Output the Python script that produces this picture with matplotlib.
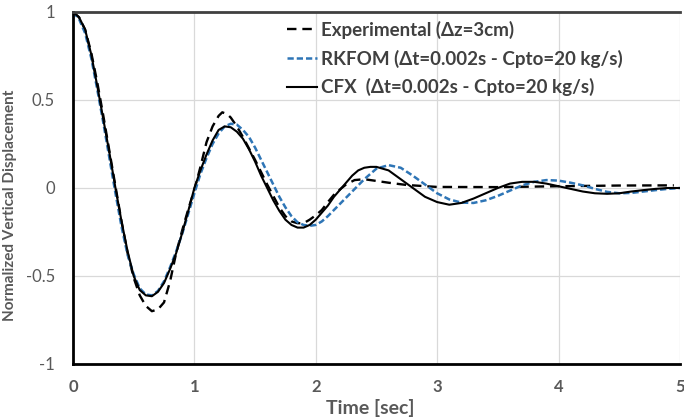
import numpy as np
import matplotlib
matplotlib.use("Agg")
import matplotlib.pyplot as plt

plt.rcParams['font.family'] = ['Lato', 'DejaVu Sans']

# experimental (dashed black)
t_exp = [0, 0.05, 0.1, 0.15, 0.2, 0.25, 0.3, 0.35, 0.4, 0.45, 0.5, 0.55, 0.6, 0.65,
         0.7, 0.75, 0.8, 0.85, 0.9, 0.95, 1.0, 1.05, 1.1, 1.15, 1.2, 1.23, 1.27, 1.3,
         1.35, 1.4, 1.5, 1.6, 1.7, 1.75, 1.8, 1.85, 1.9, 1.95, 2.0, 2.05, 2.1, 2.16,
         2.25, 2.32, 2.4, 2.5, 2.6, 2.75, 3.0, 3.5, 4.0, 4.5, 4.95]
y_exp = [1.0, 0.97, 0.90, 0.77, 0.60, 0.41, 0.21, 0.01, -0.19, -0.37, -0.51, -0.61,
         -0.67, -0.70, -0.69, -0.65, -0.53, -0.37, -0.24, -0.12, -0.01, 0.12, 0.26,
         0.35, 0.41, 0.43, 0.42, 0.40, 0.35, 0.29, 0.16, 0.02, -0.11, -0.16, -0.19,
         -0.20, -0.20, -0.18, -0.155, -0.125, -0.08, -0.03, 0.02, 0.045, 0.05, 0.04,
         0.03, 0.017, 0.006, 0.005, 0.01, 0.014, 0.015]

# RKFOM (dashed blue)
t_rk = [0, 0.05, 0.1, 0.15, 0.2, 0.25, 0.3, 0.35, 0.4, 0.45, 0.5, 0.55, 0.6, 0.65,
        0.7, 0.75, 0.8, 0.85, 0.9, 0.95, 1.0, 1.05, 1.1, 1.15, 1.2, 1.25, 1.3, 1.35,
        1.4, 1.45, 1.5, 1.55, 1.6, 1.65, 1.7, 1.75, 1.8, 1.85, 1.9, 1.95, 2.0, 2.05,
        2.1, 2.2, 2.3, 2.4, 2.5, 2.6, 2.7, 2.8, 2.9, 3.0, 3.1, 3.2, 3.3, 3.4, 3.5,
        3.6, 3.7, 3.8, 3.9, 4.0, 4.1, 4.2, 4.3, 4.4, 4.5, 4.6, 4.7, 4.8, 4.9, 5.0]
y_rk = [1.0, 0.96, 0.88, 0.74, 0.56, 0.37, 0.17, -0.03, -0.22, -0.38, -0.49, -0.57,
        -0.605, -0.61, -0.585, -0.53, -0.45, -0.36, -0.26, -0.145, -0.03, 0.08, 0.17,
        0.25, 0.31, 0.35, 0.365, 0.36, 0.33, 0.29, 0.23, 0.16, 0.09, 0.02, -0.05,
        -0.11, -0.16, -0.195, -0.21, -0.215, -0.21, -0.19, -0.16, -0.09, -0.02, 0.05,
        0.11, 0.13, 0.115, 0.07, 0.02, -0.03, -0.065, -0.083, -0.085, -0.07, -0.045,
        -0.015, 0.015, 0.035, 0.045, 0.042, 0.03, 0.015, -0.005, -0.022, -0.03,
        -0.028, -0.02, -0.012, -0.005, 0.0]

# CFX (solid black)
t_cfx = [0, 0.05, 0.1, 0.15, 0.2, 0.25, 0.3, 0.35, 0.4, 0.45, 0.5, 0.55, 0.6, 0.65,
         0.7, 0.75, 0.8, 0.85, 0.9, 0.95, 1.0, 1.05, 1.1, 1.15, 1.2, 1.25, 1.3, 1.35,
         1.4, 1.45, 1.5, 1.55, 1.6, 1.65, 1.7, 1.75, 1.8, 1.85, 1.9, 1.95, 2.0, 2.05,
         2.1, 2.15, 2.2, 2.25, 2.3, 2.35, 2.4, 2.45, 2.5, 2.6, 2.7, 2.8, 2.9, 3.0,
         3.1, 3.2, 3.3, 3.4, 3.5, 3.6, 3.7, 3.8, 3.9, 4.0, 4.1, 4.2, 4.3, 4.4, 4.5,
         4.6, 4.7, 4.8, 4.9, 5.0]
y_cfx = [1.0, 0.97, 0.90, 0.76, 0.58, 0.39, 0.20, 0.0, -0.19, -0.36, -0.50, -0.58,
         -0.61, -0.615, -0.59, -0.54, -0.46, -0.37, -0.255, -0.13, 0.0, 0.10, 0.19,
         0.27, 0.33, 0.35, 0.345, 0.32, 0.28, 0.22, 0.15, 0.07, 0.0, -0.07, -0.13,
         -0.18, -0.21, -0.225, -0.225, -0.21, -0.18, -0.14, -0.10, -0.05, -0.01, 0.03,
         0.07, 0.10, 0.115, 0.12, 0.12, 0.10, 0.05, 0.0, -0.05, -0.08, -0.095,
         -0.085, -0.06, -0.03, 0.0, 0.025, 0.035, 0.035, 0.025, 0.01, -0.005, -0.02,
         -0.03, -0.033, -0.03, -0.02, -0.012, -0.005, 0.0, 0.0]

labels = ['Experimental (\u0394z=3cm)',
          'RKFOM (\u0394t=0.002s - Cpto=20 kg/s)',
          'CFX  (\u0394t=0.002s - Cpto=20 kg/s)']

fig = plt.figure(figsize=(6.84, 4.18), dpi=100)
ax = fig.add_axes([0.1067, 0.1292, 0.8873, 0.8421])

ax.plot(t_exp, y_exp, color='black', lw=1.7, ls=(0, (4, 2.5)), label=labels[0])
ax.plot(t_rk, y_rk, color='#2e75b6', lw=1.8, ls=(0, (2.5, 1.2)), label=labels[1])
ax.plot(t_cfx, y_cfx, color='black', lw=1.5, label=labels[2])

ax.set_xlim(0, 5)
ax.set_ylim(-1, 1)
ax.set_xticks([0, 1, 2, 3, 4, 5])
ax.set_yticks([-1, -0.5, 0, 0.5, 1])
ax.set_yticklabels(['-1', '-0.5', '0', '0.5', '1'])
ax.grid(True, color='#d9d9d9', lw=0.9)
ax.set_axisbelow(True)
ax.tick_params(length=0, colors='#595959', labelsize=12)
ax.tick_params(axis='x', pad=11)
ax.tick_params(axis='y', pad=13)
for lab in ax.get_xticklabels():
    lab.set_fontweight('bold')

for s in ['left', 'bottom']:
    ax.spines[s].set_linewidth(2)
    ax.spines[s].set_color('black')
ax.spines['top'].set_linewidth(2)
ax.spines['top'].set_color('#404040')
ax.spines['right'].set_visible(False)

ax.set_xlabel('Time [sec]', fontsize=14, fontweight='bold', color='#595959')
ax.xaxis.set_label_coords(0.49, -0.1)
ax.set_ylabel('Normalized Vertical Displacement', fontsize=11, fontweight='bold', color='#595959')
ax.yaxis.set_label_coords(-0.093, 0.45)

leg = ax.legend(loc='upper left', bbox_to_anchor=(0.325, 1.023), frameon=False,
                handlelength=1.6, handletextpad=0.2, labelspacing=0.57,
                prop={'weight': 'bold', 'size': 13.5})
for txt in leg.get_texts():
    txt.set_color('#404040')

fig.savefig('out.png', dpi=100)
